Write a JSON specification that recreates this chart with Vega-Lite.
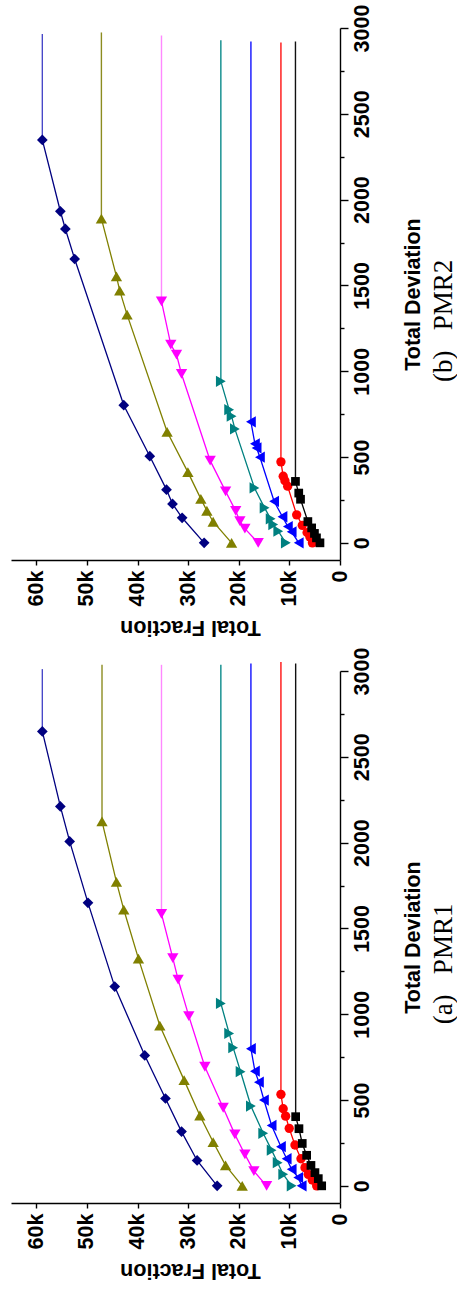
{
  "$schema": "https://vega.github.io/schema/vega-lite/v6.json",
  "padding": {"left": 11, "top": 4, "right": 0, "bottom": 12},
  "spacing": 9,
  "config": {
    "view": {"stroke": null},
    "axis": {"domainColor": "#000", "domainWidth": 1.4, "tickColor": "#000", "tickWidth": 1.4, "labelColor": "#000", "titleColor": "#000", "labelFont": "Liberation Sans", "titleFont": "Liberation Sans", "labelFontSize": 21.5, "titleFontSize": 21.5, "labelFontWeight": "bold", "titleFontWeight": "bold", "grid": false, "labelOverlap": false, "labelFlush": false, "labelBound": false}
  },
  "datasets": {
    "pts": [
      {"p":"PMR1","s":"s1","d":0,"f":24270},{"p":"PMR1","s":"s1","d":148,"f":28230},{"p":"PMR1","s":"s1","d":316,"f":31310},{"p":"PMR1","s":"s1","d":509,"f":34480},{"p":"PMR1","s":"s1","d":760,"f":38570},{"p":"PMR1","s":"s1","d":1161,"f":44510},{"p":"PMR1","s":"s1","d":1649,"f":49790},{"p":"PMR1","s":"s1","d":2007,"f":53410},{"p":"PMR1","s":"s1","d":2211,"f":55250},{"p":"PMR1","s":"s1","d":2648,"f":58810},
      {"p":"PMR1","s":"s2","d":0,"f":19320},{"p":"PMR1","s":"s2","d":119,"f":22610},{"p":"PMR1","s":"s2","d":255,"f":25060},{"p":"PMR1","s":"s2","d":410,"f":27690},{"p":"PMR1","s":"s2","d":616,"f":30800},{"p":"PMR1","s":"s2","d":934,"f":35600},{"p":"PMR1","s":"s2","d":1324,"f":39820},{"p":"PMR1","s":"s2","d":1610,"f":42720},{"p":"PMR1","s":"s2","d":1771,"f":44170},{"p":"PMR1","s":"s2","d":2124,"f":47020},
      {"p":"PMR1","s":"s3","d":0,"f":14500},{"p":"PMR1","s":"s3","d":86,"f":17010},{"p":"PMR1","s":"s3","d":183,"f":18790},{"p":"PMR1","s":"s3","d":300,"f":20770},{"p":"PMR1","s":"s3","d":455,"f":23080},{"p":"PMR1","s":"s3","d":694,"f":26700},{"p":"PMR1","s":"s3","d":989,"f":29870},{"p":"PMR1","s":"s3","d":1202,"f":31980},{"p":"PMR1","s":"s3","d":1327,"f":33030},{"p":"PMR1","s":"s3","d":1585,"f":35270},
      {"p":"PMR1","s":"s4","d":0,"f":9550},{"p":"PMR1","s":"s4","d":67,"f":11220},{"p":"PMR1","s":"s4","d":135,"f":12320},{"p":"PMR1","s":"s4","d":208,"f":13510},{"p":"PMR1","s":"s4","d":306,"f":15170},{"p":"PMR1","s":"s4","d":465,"f":17600},{"p":"PMR1","s":"s4","d":665,"f":19640},{"p":"PMR1","s":"s4","d":805,"f":21110},{"p":"PMR1","s":"s4","d":888,"f":21900},{"p":"PMR1","s":"s4","d":1063,"f":23540},
      {"p":"PMR1","s":"s5","d":0,"f":7580},{"p":"PMR1","s":"s5","d":48,"f":8250},{"p":"PMR1","s":"s5","d":96,"f":9550},{"p":"PMR1","s":"s5","d":158,"f":10540},{"p":"PMR1","s":"s5","d":228,"f":11670},{"p":"PMR1","s":"s5","d":352,"f":13510},{"p":"PMR1","s":"s5","d":500,"f":15030},{"p":"PMR1","s":"s5","d":604,"f":16020},{"p":"PMR1","s":"s5","d":668,"f":16810},{"p":"PMR1","s":"s5","d":799,"f":17600},
      {"p":"PMR1","s":"s6","d":0,"f":4610},{"p":"PMR1","s":"s6","d":34,"f":5480},{"p":"PMR1","s":"s6","d":67,"f":6270},{"p":"PMR1","s":"s6","d":106,"f":6920},{"p":"PMR1","s":"s6","d":158,"f":7710},{"p":"PMR1","s":"s6","d":238,"f":8900},{"p":"PMR1","s":"s6","d":335,"f":10030},{"p":"PMR1","s":"s6","d":406,"f":10740},{"p":"PMR1","s":"s6","d":449,"f":11220},{"p":"PMR1","s":"s6","d":533,"f":11670},
      {"p":"PMR1","s":"s7","d":0,"f":3620},{"p":"PMR1","s":"s7","d":42,"f":4290},{"p":"PMR1","s":"s7","d":77,"f":4950},{"p":"PMR1","s":"s7","d":119,"f":5740},{"p":"PMR1","s":"s7","d":178,"f":6590},{"p":"PMR1","s":"s7","d":247,"f":7460},{"p":"PMR1","s":"s7","d":333,"f":8110},{"p":"PMR1","s":"s7","d":403,"f":8760},
      {"p":"PMR2","s":"s1","d":0,"f":26840},{"p":"PMR2","s":"s1","d":146,"f":31190},{"p":"PMR2","s":"s1","d":227,"f":33090},{"p":"PMR2","s":"s1","d":310,"f":34280},{"p":"PMR2","s":"s1","d":505,"f":37580},{"p":"PMR2","s":"s1","d":802,"f":42720},{"p":"PMR2","s":"s1","d":1654,"f":52420},{"p":"PMR2","s":"s1","d":1829,"f":54260},{"p":"PMR2","s":"s1","d":1932,"f":55250},{"p":"PMR2","s":"s1","d":2348,"f":58810},
      {"p":"PMR2","s":"s2","d":0,"f":21420},{"p":"PMR2","s":"s2","d":123,"f":25060},{"p":"PMR2","s":"s2","d":187,"f":26300},{"p":"PMR2","s":"s2","d":256,"f":27490},{"p":"PMR2","s":"s2","d":412,"f":30050},{"p":"PMR2","s":"s2","d":647,"f":34160},{"p":"PMR2","s":"s2","d":1330,"f":42070},{"p":"PMR2","s":"s2","d":1470,"f":43520},{"p":"PMR2","s":"s2","d":1553,"f":44170},{"p":"PMR2","s":"s2","d":1889,"f":47140},
      {"p":"PMR2","s":"s3","d":0,"f":16160},{"p":"PMR2","s":"s3","d":83,"f":18790},{"p":"PMR2","s":"s3","d":126,"f":19780},{"p":"PMR2","s":"s3","d":186,"f":20600},{"p":"PMR2","s":"s3","d":300,"f":22600},{"p":"PMR2","s":"s3","d":479,"f":25650},{"p":"PMR2","s":"s3","d":984,"f":31310},{"p":"PMR2","s":"s3","d":1097,"f":32300},{"p":"PMR2","s":"s3","d":1155,"f":33430},{"p":"PMR2","s":"s3","d":1407,"f":35270},
      {"p":"PMR2","s":"s4","d":0,"f":10700},{"p":"PMR2","s":"s4","d":68,"f":12200},{"p":"PMR2","s":"s4","d":107,"f":13200},{"p":"PMR2","s":"s4","d":140,"f":13700},{"p":"PMR2","s":"s4","d":204,"f":14900},{"p":"PMR2","s":"s4","d":320,"f":16900},{"p":"PMR2","s":"s4","d":664,"f":20770},{"p":"PMR2","s":"s4","d":738,"f":21420},{"p":"PMR2","s":"s4","d":776,"f":21900},{"p":"PMR2","s":"s4","d":941,"f":23540},
      {"p":"PMR2","s":"s5","d":0,"f":8150},{"p":"PMR2","s":"s5","d":64,"f":9550},{"p":"PMR2","s":"s5","d":95,"f":10300},{"p":"PMR2","s":"s5","d":152,"f":11370},{"p":"PMR2","s":"s5","d":242,"f":13020},{"p":"PMR2","s":"s5","d":499,"f":15820},{"p":"PMR2","s":"s5","d":553,"f":16480},{"p":"PMR2","s":"s5","d":577,"f":16810},{"p":"PMR2","s":"s5","d":705,"f":17600},
      {"p":"PMR2","s":"s6","d":0,"f":5450},{"p":"PMR2","s":"s6","d":35,"f":5950},{"p":"PMR2","s":"s6","d":60,"f":6500},{"p":"PMR2","s":"s6","d":102,"f":7450},{"p":"PMR2","s":"s6","d":163,"f":8560},{"p":"PMR2","s":"s6","d":330,"f":10340},{"p":"PMR2","s":"s6","d":362,"f":10880},{"p":"PMR2","s":"s6","d":388,"f":11220},{"p":"PMR2","s":"s6","d":472,"f":11670},
      {"p":"PMR2","s":"s7","d":0,"f":3960},{"p":"PMR2","s":"s7","d":29,"f":4650},{"p":"PMR2","s":"s7","d":55,"f":5050},{"p":"PMR2","s":"s7","d":87,"f":5600},{"p":"PMR2","s":"s7","d":124,"f":6350},{"p":"PMR2","s":"s7","d":254,"f":7800},{"p":"PMR2","s":"s7","d":290,"f":8150},{"p":"PMR2","s":"s7","d":358,"f":8800}
    ],
    "ext": [
      {"p":"PMR1","s":"s1","d":2648,"f":58810},{"p":"PMR1","s":"s1","d":3011,"f":58810},
      {"p":"PMR1","s":"s2","d":2124,"f":47020},{"p":"PMR1","s":"s2","d":3036,"f":47020},
      {"p":"PMR1","s":"s3","d":1585,"f":35270},{"p":"PMR1","s":"s3","d":3036,"f":35270},
      {"p":"PMR1","s":"s4","d":1063,"f":23540},{"p":"PMR1","s":"s4","d":3036,"f":23540},
      {"p":"PMR1","s":"s5","d":799,"f":17600},{"p":"PMR1","s":"s5","d":3044,"f":17600},
      {"p":"PMR1","s":"s6","d":533,"f":11670},{"p":"PMR1","s":"s6","d":3052,"f":11670},
      {"p":"PMR1","s":"s7","d":403,"f":8760},{"p":"PMR1","s":"s7","d":3044,"f":8760},
      {"p":"PMR2","s":"s1","d":2348,"f":58810},{"p":"PMR2","s":"s1","d":2965,"f":58810},
      {"p":"PMR2","s":"s2","d":1889,"f":47140},{"p":"PMR2","s":"s2","d":2974,"f":47140},
      {"p":"PMR2","s":"s3","d":1407,"f":35270},{"p":"PMR2","s":"s3","d":2957,"f":35270},
      {"p":"PMR2","s":"s4","d":941,"f":23540},{"p":"PMR2","s":"s4","d":2929,"f":23540},
      {"p":"PMR2","s":"s5","d":705,"f":17600},{"p":"PMR2","s":"s5","d":2922,"f":17600},
      {"p":"PMR2","s":"s6","d":472,"f":11670},{"p":"PMR2","s":"s6","d":2916,"f":11670},
      {"p":"PMR2","s":"s7","d":358,"f":8800},{"p":"PMR2","s":"s7","d":2922,"f":8800}
    ]
  },
  "vconcat": [
    {
      "width": 329, "height": 532,
      "title": {"text": "(b)\u00a0\u00a0\u00a0PMR2", "orient": "right", "angle": 270, "baseline": "top", "frame": "bounds", "anchor": "middle", "font": "Liberation Serif", "fontSize": 27, "fontWeight": "normal", "color": "#000", "offset": -20},
      "layer": [
        {"data": {"name": "ext"}, "transform": [{"filter": "datum.p === 'PMR2'"}],
         "mark": {"type": "line", "strokeWidth": 1.4},
         "encoding": {
           "x": {"field": "f", "type": "quantitative", "scale": {"domain": [0, 65000], "reverse": true, "nice": false, "zero": false}, "axis": {"title": "Total Fraction", "values": [0,5000,10000,15000,20000,25000,30000,35000,40000,45000,50000,55000,60000,65000], "labelExpr": "datum.value % 10000 !== 0 ? '' : (datum.value === 0 ? '0' : (datum.value/1000) + 'k')", "labelAngle": 270, "labelAlign": "right", "labelBaseline": "middle", "labelPadding": 5, "tickSize": 5, "titleAngle": 180, "titleBaseline": "bottom", "titlePadding": 10, "titleX": 179}},
           "y": {"field": "d", "type": "quantitative", "scale": {"domain": [-100, 3000], "nice": false, "zero": false}, "axis": {"orient": "right", "title": "Total Deviation", "values": [0,250,500,750,1000,1250,1500,1750,2000,2250,2500,2750,3000], "format": "d", "labelExpr": "datum.value % 500 === 0 ? datum.label : ''", "labelAngle": 270, "labelAlign": "center", "labelBaseline": "top", "labelPadding": 3, "tickSize": {"condition": {"test": "datum.value % 500 === 0", "value": 8}, "value": 4}, "titleAngle": 270, "titleBaseline": "top", "titlePadding": 30}},
           "order": {"field": "d", "type": "quantitative"},
           "color": {"field": "s", "type": "nominal", "scale": {"domain": ["s1","s2","s3","s4","s5","s6","s7"], "range": ["#4848c8","#8c8c20","#ff88ff","#0a8a8a","#1010ff","#ff1010","#111111"]}, "legend": null}
         }},
        {"data": {"name": "pts"}, "transform": [{"filter": "datum.p === 'PMR2'"}],
         "mark": {"type": "line", "strokeWidth": 1.3},
         "encoding": {
           "x": {"field": "f", "type": "quantitative"},
           "y": {"field": "d", "type": "quantitative"},
           "order": {"field": "d", "type": "quantitative"},
           "color": {"field": "s", "type": "nominal", "scale": {"domain": ["s1","s2","s3","s4","s5","s6","s7"], "range": ["#000080","#808000","#ff00ff","#008080","#0000ff","#ff0000","#000000"]}, "legend": null}
         }},
        {"data": {"name": "pts"}, "transform": [{"filter": "datum.p === 'PMR2'"}],
         "mark": {"type": "point", "filled": true, "opacity": 1, "strokeWidth": 0},
         "encoding": {
           "x": {"field": "f", "type": "quantitative"},
           "y": {"field": "d", "type": "quantitative"},
           "color": {"field": "s", "type": "nominal", "scale": {"domain": ["s1","s2","s3","s4","s5","s6","s7"], "range": ["#000080","#808000","#ff00ff","#008080","#0000ff","#ff0000","#000000"]}, "legend": null},
           "shape": {"field": "s", "type": "nominal", "scale": {"domain": ["s1","s2","s3","s4","s5","s6","s7"], "range": ["diamond","triangle-up","triangle-down","triangle-right","triangle-left","circle","square"]}, "legend": null},
           "size": {"condition": [{"test": "datum.s === 's6'", "value": 87}, {"test": "datum.s === 's7'", "value": 76}, {"test": "datum.s === 's1'", "value": 115}], "value": 128}
         }}
      ],
      "resolve": {"scale": {"color": "independent"}}
    },
    {
      "width": 329, "height": 532,
      "title": {"text": "(a)\u00a0\u00a0\u00a0PMR1", "orient": "right", "angle": 270, "baseline": "top", "frame": "bounds", "anchor": "middle", "font": "Liberation Serif", "fontSize": 27, "fontWeight": "normal", "color": "#000", "offset": -20},
      "layer": [
        {"data": {"name": "ext"}, "transform": [{"filter": "datum.p === 'PMR1'"}],
         "mark": {"type": "line", "strokeWidth": 1.4},
         "encoding": {
           "x": {"field": "f", "type": "quantitative", "scale": {"domain": [0, 65000], "reverse": true, "nice": false, "zero": false}, "axis": {"title": "Total Fraction", "values": [0,5000,10000,15000,20000,25000,30000,35000,40000,45000,50000,55000,60000,65000], "labelExpr": "datum.value % 10000 !== 0 ? '' : (datum.value === 0 ? '0' : (datum.value/1000) + 'k')", "labelAngle": 270, "labelAlign": "right", "labelBaseline": "middle", "labelPadding": 5, "tickSize": 5, "titleAngle": 180, "titleBaseline": "bottom", "titlePadding": 10, "titleX": 179}},
           "y": {"field": "d", "type": "quantitative", "scale": {"domain": [-100, 3000], "nice": false, "zero": false}, "axis": {"orient": "right", "title": "Total Deviation", "values": [0,250,500,750,1000,1250,1500,1750,2000,2250,2500,2750,3000], "format": "d", "labelExpr": "datum.value % 500 === 0 ? datum.label : ''", "labelAngle": 270, "labelAlign": "center", "labelBaseline": "top", "labelPadding": 3, "tickSize": {"condition": {"test": "datum.value % 500 === 0", "value": 8}, "value": 4}, "titleAngle": 270, "titleBaseline": "top", "titlePadding": 30}},
           "order": {"field": "d", "type": "quantitative"},
           "color": {"field": "s", "type": "nominal", "scale": {"domain": ["s1","s2","s3","s4","s5","s6","s7"], "range": ["#4848c8","#8c8c20","#ff88ff","#0a8a8a","#1010ff","#ff1010","#111111"]}, "legend": null}
         }},
        {"data": {"name": "pts"}, "transform": [{"filter": "datum.p === 'PMR1'"}],
         "mark": {"type": "line", "strokeWidth": 1.3},
         "encoding": {
           "x": {"field": "f", "type": "quantitative"},
           "y": {"field": "d", "type": "quantitative"},
           "order": {"field": "d", "type": "quantitative"},
           "color": {"field": "s", "type": "nominal", "scale": {"domain": ["s1","s2","s3","s4","s5","s6","s7"], "range": ["#000080","#808000","#ff00ff","#008080","#0000ff","#ff0000","#000000"]}, "legend": null}
         }},
        {"data": {"name": "pts"}, "transform": [{"filter": "datum.p === 'PMR1'"}],
         "mark": {"type": "point", "filled": true, "opacity": 1, "strokeWidth": 0},
         "encoding": {
           "x": {"field": "f", "type": "quantitative"},
           "y": {"field": "d", "type": "quantitative"},
           "color": {"field": "s", "type": "nominal", "scale": {"domain": ["s1","s2","s3","s4","s5","s6","s7"], "range": ["#000080","#808000","#ff00ff","#008080","#0000ff","#ff0000","#000000"]}, "legend": null},
           "shape": {"field": "s", "type": "nominal", "scale": {"domain": ["s1","s2","s3","s4","s5","s6","s7"], "range": ["diamond","triangle-up","triangle-down","triangle-right","triangle-left","circle","square"]}, "legend": null},
           "size": {"condition": [{"test": "datum.s === 's6'", "value": 87}, {"test": "datum.s === 's7'", "value": 76}, {"test": "datum.s === 's1'", "value": 115}], "value": 128}
         }}
      ],
      "resolve": {"scale": {"color": "independent"}}
    }
  ]
}
